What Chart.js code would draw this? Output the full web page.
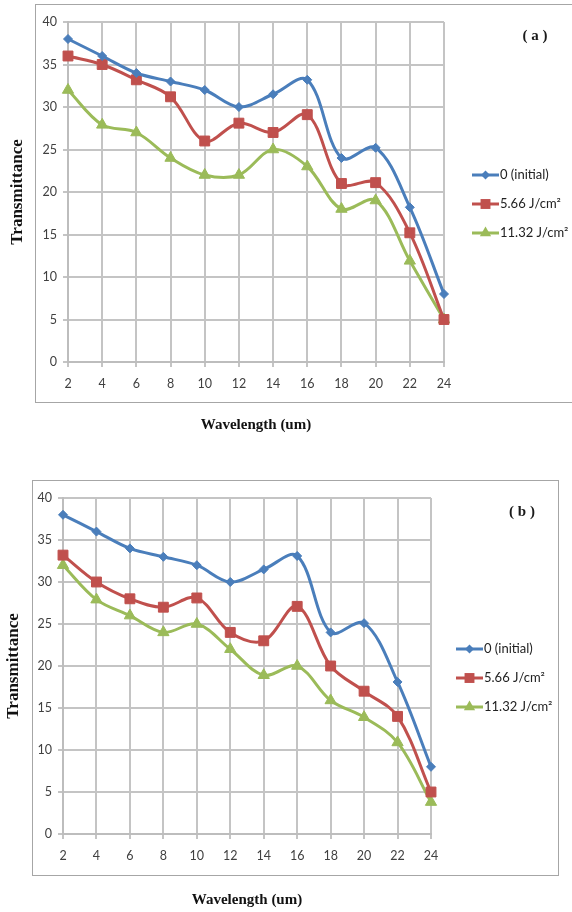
<!DOCTYPE html>
<html>
<head>
<meta charset="utf-8">
<script src="https://cdn.jsdelivr.net/npm/chart.js@4/dist/chart.umd.min.js"></script>
<style>
  html, body { margin: 0; padding: 0; background: #fff; overflow: hidden; }
  body { width: 572px; height: 912px; position: relative; }
  .frame { position: absolute; border: 1.5px solid #a6a6a6; box-sizing: border-box; }
  #frameA { left: 35px; top: 4px; width: 560px; height: 399px; }
  #frameB { left: 32px; top: 480px; width: 527px; height: 396px; }
  .wrap { position: absolute; left: 0; width: 572px; }
  #wrapA { top: 0; height: 440px; }
  #wrapB { top: 476px; height: 436px; }
</style>
</head>
<body>
<div class="frame" id="frameA"></div>
<div class="frame" id="frameB"></div>
<div class="wrap" id="wrapA"><canvas id="chartA"></canvas></div>
<div class="wrap" id="wrapB"><canvas id="chartB"></canvas></div>
<script>
const wavelengths = ['2', '4', '6', '8', '10', '12', '14', '16', '18', '20', '22', '24'];
const seriesNames = ['0 (initial)', '5.66 J/cm²', '11.32 J/cm²'];

// panel (a)
const initialA = [38, 36, 34, 33, 32, 30, 31.5, 33.2, 24, 25.2, 18.2, 8];
const dose1A   = [36, 35, 33.2, 31.2, 26, 28.1, 27, 29.1, 21, 21.1, 15.2, 5];
const dose2A   = [32, 27.9, 27, 24, 22, 22, 25, 23, 18, 19, 11.9, 5];

// panel (b)
const initialB = [38, 36, 34, 33, 32, 30, 31.5, 33.1, 24, 25.1, 18.1, 8];
const dose1B   = [33.2, 30, 28, 27, 28.1, 24, 23, 27.1, 20, 17, 14, 5];
const dose2B   = [32, 27.9, 26, 24, 25, 22, 18.9, 20, 15.9, 13.9, 10.9, 3.8];

const colors  = ['#4A7EBB', '#C0504D', '#9BBB59'];
const markers = ['rectRot', 'rect', 'triangle'];
const radii   = [4.5, 7, 6.5];

function makeSets(vals) {
  return vals.map((d, i) => ({
    label: seriesNames[i],
    data: d,
    borderColor: colors[i],
    backgroundColor: colors[i],
    borderWidth: 3,
    tension: 0.35,
    pointStyle: markers[i],
    pointRadius: radii[i],
    pointBorderWidth: 1,
    pointBorderColor: colors[i],
    pointBackgroundColor: colors[i]
  }));
}

function drawMarker(ctx, style, x, y, r) {
  ctx.beginPath();
  if (style === 'rectRot') {
    ctx.moveTo(x, y - r); ctx.lineTo(x + r, y); ctx.lineTo(x, y + r); ctx.lineTo(x - r, y);
  } else if (style === 'rect') {
    const s = r * Math.SQRT1_2;
    ctx.rect(x - s, y - s, 2 * s, 2 * s);
  } else {
    ctx.moveTo(x, y - r);
    ctx.lineTo(x + r * Math.sin(2 * Math.PI / 3), y - r * Math.cos(2 * Math.PI / 3));
    ctx.lineTo(x + r * Math.sin(4 * Math.PI / 3), y - r * Math.cos(4 * Math.PI / 3));
  }
  ctx.closePath();
  ctx.fill();
}

// legend with line + marker like Excel, plus the panel letter
const sideLegend = {
  id: 'sideLegend',
  afterDraw(chart, args, opts) {
    const { ctx, chartArea: a } = chart;
    ctx.save();
    const x0 = a.right + opts.dx;
    const midY = (a.top + a.bottom) / 2 + 12;
    chart.data.datasets.forEach((ds, i) => {
      const y = midY + (i - 1) * 29;
      ctx.strokeStyle = ds.borderColor;
      ctx.fillStyle = ds.borderColor;
      ctx.lineWidth = 3;
      ctx.beginPath();
      ctx.moveTo(x0, y); ctx.lineTo(x0 + 27, y); ctx.stroke();
      drawMarker(ctx, ds.pointStyle, x0 + 13.5, y, ds.pointRadius);
      ctx.fillStyle = '#222';
      ctx.font = '13px Lato';
      ctx.textBaseline = 'middle';
      ctx.textAlign = 'left';
      ctx.fillText(ds.label, x0 + 28, y);
    });
    ctx.fillStyle = '#1a1a1a';
    ctx.font = 'bold 15px "Liberation Serif"';
    ctx.textAlign = 'center';
    ctx.textBaseline = 'middle';
    ctx.fillText(opts.panel, a.right + 91, a.top + 14);
    ctx.restore();
  }
};

function build(id, vals, geo) {
  return new Chart(document.getElementById(id), {
    type: 'line',
    data: { labels: wavelengths, datasets: makeSets(vals) },
    plugins: [sideLegend],
    options: {
      responsive: true,
      maintainAspectRatio: false,
      animation: false,
      layout: { padding: { left: 0, top: 22, right: geo.right, bottom: 0 } },
      plugins: {
        legend: { display: false },
        tooltip: { enabled: false },
        sideLegend: { dx: geo.legendDx, panel: geo.panel }
      },
      scales: {
        x: {
          offset: false,
          afterFit: (s) => { s.height = 78; },
          grid: { color: '#c4c4c4', lineWidth: 2, tickLength: 5 },
          border: { color: '#bdbdbd', width: 2 },
          ticks: { color: '#404040', font: { family: 'Lato', size: 12.5 }, padding: 9, maxRotation: 0, autoSkip: false },
          title: { display: true, text: 'Wavelength (um)', color: '#111', font: { family: 'Liberation Serif', size: 15, weight: 'bold' }, padding: { bottom: geo.xTitlePad } }
        },
        y: {
          min: 0, max: 40,
          afterFit: (s) => { s.width = geo.left; },
          grid: { color: '#c4c4c4', lineWidth: 2, tickLength: 5 },
          border: { color: '#bdbdbd', width: 2 },
          ticks: { stepSize: 5, color: '#404040', font: { family: 'Lato', size: 12.5 }, padding: 6 },
          title: { display: true, text: 'Transmittance', color: '#111', font: { family: 'Liberation Serif', size: 17, weight: 'bold' }, padding: { top: geo.yTitlePad } }
        }
      }
    }
  });
}

build('chartA', [initialA, dose1A, dose2A], { left: 68, right: 128, legendDx: 28, panel: '( a )', xTitlePad: 6, yTitlePad: 7 });
build('chartB', [initialB, dose1B, dose2B], { left: 63, right: 141, legendDx: 25, panel: '( b )', xTitlePad: 3, yTitlePad: 3 });
</script>
</body>
</html>
